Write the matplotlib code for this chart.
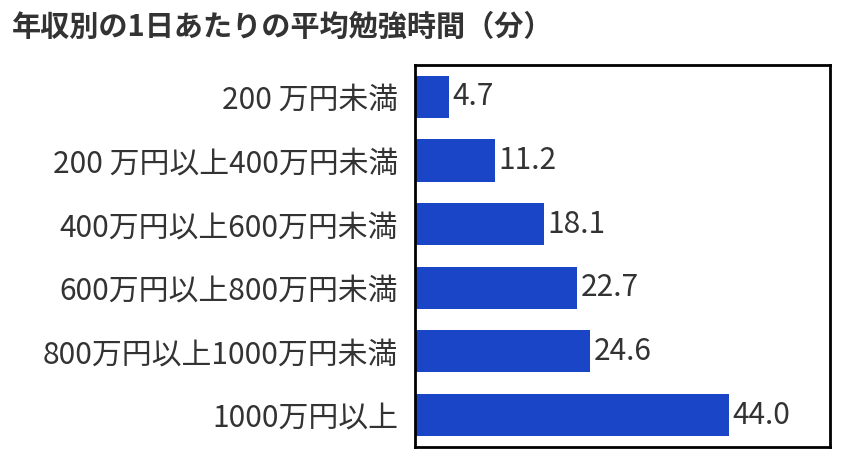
import matplotlib
matplotlib.use('Agg')
import matplotlib.pyplot as plt

plt.rcParams['font.family'] = ['Noto Sans CJK JP', 'DejaVu Sans']

# data
categories = ['200 万円未満', '200 万円以上400万円未満', '400万円以上600万円未満',
              '600万円以上800万円未満', '800万円以上1000万円未満', '1000万円以上']
minutes = [4.7, 11.2, 18.1, 22.7, 24.6, 44.0]

bar_color = '#1a45c6'
text_color = '#333333'

fig = plt.figure(figsize=(8.6, 4.62), dpi=100)
ax = fig.add_axes([0.4826, 0.0325, 0.4826, 0.8268])

y = list(range(len(categories)))
bars = ax.barh(y, minutes, height=0.66, color=bar_color)
ax.set_ylim(len(categories) - 0.5, -0.5)
ax.set_xlim(0, 58.2)

for rect, v in zip(bars, minutes):
    ax.text(rect.get_width() + 0.5, rect.get_y() + rect.get_height() / 2, f'{v:.1f}',
            va='center', ha='left', fontsize=21.5, color=text_color)

ax.set_yticks(y)
ax.set_yticklabels(categories, fontsize=21.5, color=text_color)
ax.tick_params(axis='y', length=0, pad=12)
ax.set_xticks([])
for s in ax.spines.values():
    s.set_linewidth(2.0)
    s.set_color('black')

fig.text(0.014, 0.975, '年収別の1日あたりの平均勉強時間（分）', fontsize=21,
         fontweight='bold', color=text_color, va='top', ha='left')

fig.savefig('out.png', dpi=100)
